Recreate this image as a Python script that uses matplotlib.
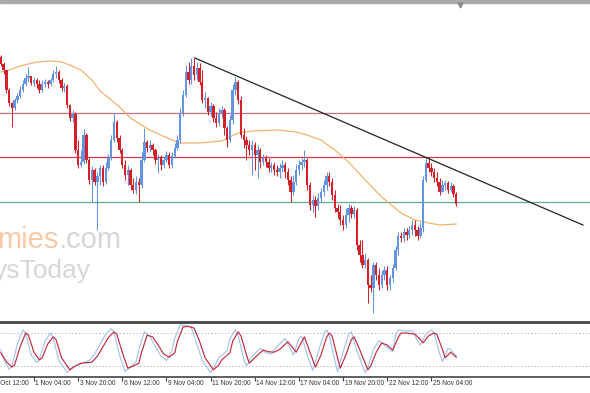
import matplotlib
matplotlib.use("Agg")
import matplotlib.pyplot as plt
from matplotlib import font_manager
from matplotlib.lines import Line2D
from matplotlib.patches import Rectangle
from matplotlib.transforms import offset_copy

# 4H candles, price in chart points (no price scale visible on the screenshot)
first_open = 263
closes = [256, 250, 230, 217, 212, 220, 224, 230, 236, 242, 244, 237, 240, 236, 230, 236, 238, 236, 240, 246,
          248, 240, 232, 234, 215, 202, 206, 170, 155, 158, 185, 160, 140, 150, 138, 144, 152, 138, 152, 162,
          180, 198, 182, 170, 155, 145, 150, 135, 130, 138, 135, 160, 178, 172, 175, 170, 160, 163, 155, 160,
          165, 155, 164, 172, 180, 207, 225, 248, 240, 254, 245, 252, 238, 220, 222, 208, 214, 202, 197, 207,
          210, 192, 180, 200, 230, 238, 220, 185, 180, 175, 170, 175, 165, 170, 158, 162, 158, 152, 155, 150,
          148, 152, 155, 148, 140, 128, 138, 150, 155, 158, 160, 135, 115, 120, 114, 122, 128, 135, 144, 138,
          125, 112, 108, 100, 95, 105, 112, 106, 110, 75, 65, 55, 60, 35, 32, 55, 45, 35, 45, 50,
          35, 42, 52, 70, 84, 82, 88, 85, 90, 95, 90, 84, 92, 140, 157, 152, 148, 142, 138, 128,
          135, 137, 130, 134, 126, 116]
highs = [265, 258, 250, 232, 218, 222, 227, 234, 240, 246, 253, 244, 243, 242, 240, 240, 241, 240, 242, 250,
         254, 250, 242, 237, 236, 216, 210, 208, 180, 170, 191, 187, 162, 154, 152, 148, 155, 155, 158, 166,
         185, 207, 200, 185, 172, 160, 155, 152, 142, 144, 142, 168, 192, 180, 180, 177, 172, 166, 165, 163,
         169, 168, 168, 177, 185, 212, 230, 255, 258, 262, 262, 258, 257, 250, 228, 223, 218, 216, 208, 212,
         214, 212, 194, 205, 236, 243, 240, 224, 192, 184, 180, 180, 178, 175, 172, 166, 165, 162, 158, 158,
         155, 157, 160, 158, 152, 144, 145, 156, 160, 162, 170, 162, 138, 125, 124, 127, 132, 140, 148, 148,
         142, 130, 116, 115, 105, 112, 116, 115, 114, 112, 80, 80, 67, 62, 45, 58, 58, 52, 50, 54,
         54, 45, 56, 74, 88, 88, 92, 92, 94, 100, 100, 94, 98, 144, 162, 162, 157, 152, 148, 142,
         140, 140, 139, 138, 136, 128]
lows = [254, 246, 227, 214, 193, 210, 217, 222, 228, 234, 238, 235, 234, 232, 227, 228, 233, 232, 234, 238,
        242, 237, 229, 228, 212, 199, 198, 167, 152, 153, 156, 157, 136, 118, 135, 90, 135, 134, 136, 150,
        160, 178, 178, 167, 152, 140, 135, 130, 127, 126, 118, 132, 158, 168, 168, 165, 156, 147, 150, 152,
        158, 152, 152, 162, 170, 177, 204, 223, 236, 236, 240, 240, 235, 217, 212, 205, 204, 198, 193, 194,
        202, 185, 173, 178, 196, 225, 216, 182, 172, 160, 165, 145, 150, 142, 152, 155, 153, 148, 148, 145,
        144, 142, 148, 142, 135, 118, 125, 135, 145, 150, 153, 130, 110, 108, 103, 110, 118, 124, 130, 134,
        120, 108, 102, 95, 90, 92, 98, 102, 102, 70, 58, 52, 52, 17, 28, 7, 40, 30, 32, 40,
        30, 30, 38, 50, 65, 78, 78, 80, 82, 85, 84, 80, 82, 88, 138, 148, 144, 138, 134, 125,
        128, 130, 127, 128, 123, 114]

# moving average, read at sample bars
ma_bars = [0, 3, 7, 13, 18, 22, 25, 29, 33, 36, 40, 43, 47, 51, 54, 58, 62, 65, 72, 80,
           86, 91, 100, 107, 111, 116, 121, 126, 132, 138, 145, 150, 155, 159, 165]
ma_vals = [248, 250, 254, 258, 259, 258, 255, 250, 240, 229, 220, 213, 202, 195, 190, 185, 180, 177, 177, 179,
           187, 189, 190, 188, 185, 180, 170, 158, 140, 123, 107, 100, 97, 95, 96]

levels = [207, 163, 118]
level_colors = ["#c8707e", "#cc3a4a", "#5fae92"]
trend_bars = [70.3, 210.9]
trend_vals = [262, 95]

# stochastic oscillator (red = slow line, blue = fast line)
stoch_red_bars = [0, 2, 4, 5, 7, 9, 10, 12, 14, 15, 17, 19, 20, 22, 25, 27, 29, 31, 33, 35,
                  37, 39, 41, 42, 44, 46, 48, 50, 51, 53, 55, 57, 59, 61, 63, 64, 66, 68, 70, 72,
                  74, 77, 79, 80, 83, 84, 86, 87, 89, 90, 92, 95, 97, 99, 101, 104, 106, 107, 109, 110,
                  112, 114, 116, 118, 119, 120, 122, 123, 125, 127, 128, 130, 133, 134, 136, 138, 140, 142, 144, 145,
                  147, 150, 152, 153, 155, 157, 158, 160, 161, 163, 165]
stoch_red = [44, 28, 18, 22, 55, 80, 76, 45, 31, 35, 60, 73, 68, 35, 13, 20, 25, 26, 27, 38,
             55, 72, 82, 78, 45, 16, 20, 25, 45, 76, 73, 58, 42, 36, 44, 65, 91, 92, 89, 65,
             35, 13, 22, 31, 44, 65, 82, 75, 40, 25, 35, 49, 46, 45, 50, 64, 52, 45, 64, 73,
             45, 18, 40, 72, 80, 75, 35, 16, 40, 68, 73, 50, 13, 20, 45, 62, 58, 49, 72, 80,
             80, 78, 68, 62, 75, 80, 77, 50, 35, 45, 36]
stoch_blue_bars = [0, 1, 3, 4, 6, 8, 9, 11, 13, 14, 16, 18, 19, 21, 24, 26, 28, 30, 32, 34,
                   36, 38, 40, 41, 43, 45, 47, 49, 50, 52, 54, 56, 58, 60, 62, 63, 65, 67, 69, 71,
                   73, 76, 78, 79, 82, 83, 85, 86, 88, 89, 91, 94, 96, 98, 100, 103, 105, 106, 108, 109,
                   111, 113, 115, 117, 118, 119, 121, 122, 124, 126, 127, 129, 132, 133, 135, 137, 139, 141, 142, 143,
                   144, 146, 149, 151, 152, 154, 156, 157, 159, 160, 162, 163, 165]
stoch_blue = [50, 32, 14, 20, 60, 86, 80, 40, 26, 32, 65, 80, 70, 30, 8, 18, 22, 26, 30, 42,
              60, 78, 88, 82, 40, 10, 18, 28, 50, 82, 74, 55, 38, 30, 48, 70, 95, 94, 90, 60,
              30, 8, 25, 35, 48, 70, 86, 76, 32, 20, 38, 52, 44, 42, 55, 70, 50, 40, 70, 74,
              40, 12, 45, 78, 86, 76, 30, 10, 45, 78, 82, 48, 8, 18, 50, 66, 58, 50, 46, 75,
              86, 84, 84, 66, 58, 78, 86, 80, 42, 28, 52, 50, 38]

tick_bars = [-4, 12, 28, 44, 60, 76, 92, 108, 124, 140, 156]
tick_labels = ["29 Oct 12:00", "1 Nov 04:00", "3 Nov 20:00", "6 Nov 12:00", "9 Nov 04:00", "11 Nov 20:00",
               "14 Nov 12:00", "17 Nov 04:00", "19 Nov 20:00", "22 Nov 12:00", "25 Nov 04:00"]

W, H = 590, 393
bar_px = 2.76
xmin, xmax = -0.3, W / bar_px - 0.3

installed = {f.name for f in font_manager.fontManager.ttflist}
if "Liberation Sans Narrow" in installed:
    tick_family, tick_size = "Liberation Sans Narrow", 5.6
else:
    tick_family, tick_size = "Liberation Sans", 4.8

fig = plt.figure(figsize=(W / 100, H / 100), dpi=100)
fig.patch.set_facecolor("white")

ax = fig.add_axes([0, (H - 318) / H, 1, 315 / H])
ax.set_xlim(xmin, xmax)
ax.set_ylim(2, 317)
ax.axis("off")

# watermark (cut off at the left edge, as in the screenshot)
t1 = ax.text(-1.5, 72, "mies", color="#f7c9a6", fontsize=21, family="Liberation Sans", va="baseline", ha="left", zorder=0)
ax.annotate(".com", xy=(1, 0), xycoords=t1, va="bottom", ha="left", color="#d6d6d6", fontsize=21,
            family="Liberation Sans", zorder=0)
ax.text(-2.5, 42, "ysToday", color="#d6d6d6", fontsize=19, family="Liberation Sans", va="baseline", ha="left", zorder=0)

for lv, lc in zip(levels, level_colors):
    ax.axhline(lv, color=lc, lw=0.9, zorder=1)

ax.plot(ma_bars, ma_vals, color="#f2b36c", lw=0.9, zorder=2)
ax.plot(trend_bars, trend_vals, color="#222222", lw=0.9, zorder=4)

opens = [first_open] + closes[:-1]
idx = list(range(len(closes)))
up = "#6294e2"
dn = "#d61f26"
cols = [up if c >= o else dn for o, c in zip(opens, closes)]
ax.vlines(idx, lows, highs, colors=cols, lw=0.75, zorder=3)
bottoms = [min(o, c) for o, c in zip(opens, closes)]
heights = [max(abs(c - o), 0.8) for o, c in zip(opens, closes)]
ax.bar(idx, heights, bottom=bottoms, width=0.85, color=cols, lw=0, zorder=3)

# oscillator panel
ax2 = fig.add_axes([0, (H - 377) / H, 1, 55 / H])
for s in ["left", "right"]:
    ax2.spines[s].set_visible(False)
ax2.spines["top"].set_color("#444444")
ax2.spines["top"].set_linewidth(2.0)
ax2.spines["bottom"].set_color("#444444")
ax2.spines["bottom"].set_linewidth(1.2)
ax2.axhline(80, color="#bcbcbc", lw=0.7, ls=(0, (1.5, 2)))
ax2.axhline(20, color="#bcbcbc", lw=0.7, ls=(0, (1.5, 2)))
ax2.plot(stoch_blue_bars, stoch_blue, color="#a6c4ec", lw=0.85, solid_joinstyle="round")
ax2.plot(stoch_red_bars, stoch_red, color="#c52a3e", lw=0.85, solid_joinstyle="round")
ax2.set_yticks([])
ax2.set_xticks(tick_bars)
ax2.set_xticklabels([])
ax2.tick_params(axis="x", length=3, width=0.8, color="#444444", direction="out")
# limits after set_xticks, which would otherwise widen the view to the first tick
ax2.set_xlim(xmin, xmax)
ax2.set_ylim(0, 100)
label_trans = offset_copy(ax2.get_xaxis_transform(), fig=fig, x=1.5, y=-6.5, units="dots")
for tb, tl in zip(tick_bars, tick_labels):
    ax2.text(tb, 0, tl, transform=label_trans, clip_on=False, fontsize=tick_size, family=tick_family,
             color="#333333", ha="left", va="center")

# top frame and chart shift marker
fig.patches.append(Rectangle((0, 1 - 3 / H), 1, 3 / H, transform=fig.transFigure, color="#a9a9a9"))
fig.add_artist(Line2D([460 / W], [1 - 5 / H], marker="v", ms=3.5, color="#8c8c8c", transform=fig.transFigure))

fig.savefig("out.png", dpi=100)
